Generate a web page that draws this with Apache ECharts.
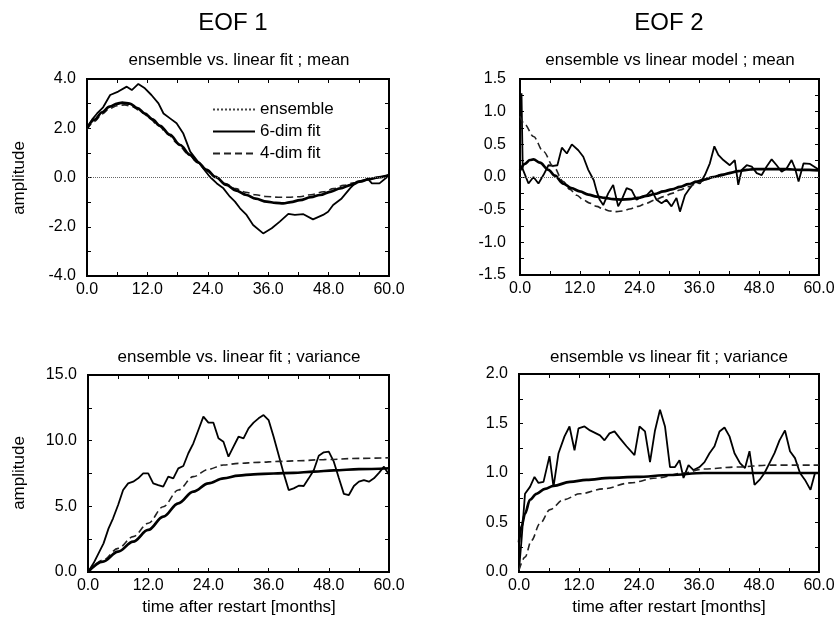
<!DOCTYPE html>
<html>
<head>
<meta charset="utf-8">
<script src="https://cdn.jsdelivr.net/npm/echarts@6/dist/echarts.min.js"></script>
<style>
  html, body { margin: 0; padding: 0; background: #fff; }
  #chart { width: 839px; height: 619px; }
</style>
</head>
<body>
<div id="chart"></div>
<script>
// ---------- EOF 1, mean ----------
const eof1MeanEnsT = [0, 1, 2, 3.2, 4.6, 6.2, 7.9, 8.9, 10.2, 11.5, 12.8, 14.2, 15.2, 16.5, 17.8, 19.1, 20.5, 21.8, 23.1, 24.4, 25.8, 27.1, 28.4, 29.4, 30.4, 31.7, 33.0, 35.0, 36.7, 38.3, 40.0, 41.3, 43.0, 44.9, 46.9, 47.9, 48.9, 50.6, 52.3, 53.6, 55.9, 56.6, 58.1, 60];
const eof1MeanEnsV = [2.0, 2.35, 2.6, 2.85, 3.35, 3.49, 3.69, 3.55, 3.8, 3.62, 3.35, 3.01, 2.6, 2.4, 2.2, 1.8, 1.05, 0.71, 0.37, 0.03, -0.24, -0.44, -0.78, -0.98, -1.25, -1.52, -1.93, -2.27, -2.06, -1.79, -1.48, -1.52, -1.49, -1.70, -1.52, -1.39, -1.12, -0.85, -0.43, -0.17, -0.08, -0.24, -0.24, 0.08];
const eof1Mean6T = [0, 1.5, 3, 4.5, 6, 7, 8.5, 10, 11.5, 13, 14.5, 16.5, 18.5, 20.5, 22, 23.8, 25.5, 27.7, 29.5, 31.7, 33.5, 35.7, 37.5, 39, 40.5, 42.3, 44.5, 46.3, 48.5, 50.3, 52.5, 54.2, 56, 58, 60];
const eof1Mean6V = [2.0, 2.35, 2.65, 2.88, 3.0, 3.04, 3.0, 2.82, 2.6, 2.36, 2.1, 1.73, 1.32, 0.92, 0.62, 0.31, 0.03, -0.30, -0.52, -0.71, -0.86, -0.98, -1.03, -1.05, -1.0, -0.92, -0.8, -0.71, -0.57, -0.44, -0.3, -0.17, -0.07, 0.01, 0.1];
const eof1Mean4T = [0, 1.5, 3, 4.5, 6, 7.5, 9, 10.5, 12, 14, 16, 18, 20, 22, 24, 25.5, 27.5, 29.5, 31.5, 33.5, 35.5, 38, 40, 42.3, 44.5, 47, 49, 51, 53, 55, 57, 60];
const eof1Mean4V = [1.95, 2.28, 2.58, 2.8, 2.92, 2.95, 2.88, 2.72, 2.5, 2.15, 1.78, 1.38, 0.98, 0.6, 0.25, 0.0, -0.25, -0.45, -0.6, -0.7, -0.77, -0.8, -0.8, -0.78, -0.7, -0.58, -0.45, -0.32, -0.22, -0.12, -0.03, 0.1];

// ---------- EOF 2, mean ----------
const eof2MeanEnsT = [0, 0.3, 0.55, 0.9, 1.7, 2.7, 3.7, 4.7, 5.7, 6.7, 7.5, 8.4, 9.4, 10.4, 11.7, 12.7, 13.7, 14.8, 15.4, 16.0, 16.7, 17.7, 18.7, 19.7, 20.4, 21.4, 22.4, 23.4, 24.4, 25.4, 26.4, 27.4, 28.4, 29.4, 30.4, 31.4, 32.1, 33.1, 34.1, 35.1, 36.1, 37.1, 38.1, 39.0, 39.8, 40.8, 42.1, 43.1, 43.8, 44.5, 45.5, 46.5, 47.5, 48.5, 49.5, 50.5, 51.5, 52.5, 53.5, 54.5, 55.2, 55.9, 56.9, 58.2, 60];
const eof2MeanEnsV = [1.2, 1.28, 0.12, 0.11, -0.1, 0.0, -0.1, 0.03, 0.18, 0.17, 0.18, 0.45, 0.36, 0.5, 0.41, 0.31, 0.11, -0.05, -0.22, -0.35, -0.43, -0.25, -0.12, -0.45, -0.35, -0.17, -0.2, -0.35, -0.30, -0.28, -0.2, -0.35, -0.4, -0.35, -0.45, -0.32, -0.53, -0.28, -0.17, -0.07, -0.1, 0.03, 0.21, 0.47, 0.34, 0.26, 0.18, 0.26, -0.12, 0.11, 0.18, 0.16, 0.06, 0.03, 0.16, 0.27, 0.18, 0.08, 0.13, 0.26, 0.13, -0.07, 0.21, 0.20, 0.11];
const eof2Mean6T = [0, 1, 2, 2.7, 4, 5.7, 7, 8.7, 10.3, 12, 13.7, 15.4, 17, 18.7, 20.3, 22, 23.7, 25.4, 27, 28.8, 30.5, 32.1, 33.8, 35.5, 37, 38.8, 40.5, 42.1, 43.8, 45.5, 47, 48.8, 51, 53.5, 56, 58, 60];
const eof2Mean6V = [0.1, 0.2, 0.26, 0.27, 0.22, 0.11, 0.02, -0.1, -0.17, -0.22, -0.27, -0.30, -0.32, -0.34, -0.345, -0.34, -0.32, -0.29, -0.26, -0.22, -0.19, -0.15, -0.11, -0.07, -0.04, 0.0, 0.03, 0.06, 0.09, 0.11, 0.12, 0.12, 0.12, 0.12, 0.11, 0.11, 0.10];
const eof2Mean4T = [0, 1, 2.7, 4.7, 6.7, 8.7, 10, 11.4, 12.7, 14, 15.4, 16.7, 18, 19.4, 20.7, 22, 23.7, 25.4, 27.1, 28.8, 30.5, 32.1, 33.8, 35.5, 37.1, 38.8, 40.5, 42.1, 43.8, 45.5, 47.5, 50.2, 53, 56, 60];
const eof2Mean4V = [0.93, 0.8, 0.62, 0.39, 0.16, -0.07, -0.19, -0.28, -0.35, -0.40, -0.45, -0.49, -0.52, -0.53, -0.52, -0.49, -0.45, -0.40, -0.35, -0.30, -0.25, -0.2, -0.15, -0.1, -0.05, 0.0, 0.04, 0.07, 0.09, 0.11, 0.12, 0.12, 0.12, 0.11, 0.11];

// ---------- EOF 1, variance ----------
const eof1VarEnsT = [0, 1.1, 2.1, 3.1, 4.1, 5, 6, 7, 8, 9, 10, 11, 12, 13, 14, 15, 16, 17, 18, 19, 20, 21, 22, 23, 24, 25, 26, 27, 28, 29, 30, 31, 32, 33, 34, 35, 36, 37, 38, 39, 40, 41, 42, 43, 44, 45, 46, 47, 48, 49, 50, 51, 52, 53, 54, 55, 56, 57, 58, 59, 60];
const eof1VarEnsV = [0, 0.66, 1.42, 2.18, 3.32, 4.09, 5.1, 6.24, 6.75, 6.88, 7.13, 7.51, 7.51, 6.75, 6.62, 6.5, 7.26, 7.13, 7.89, 8.07, 9.04, 9.8, 10.81, 11.83, 11.37, 11.37, 10.18, 9.92, 8.78, 9.54, 10.3, 10.18, 10.94, 11.37, 11.7, 11.95, 11.57, 10.3, 8.91, 7.51, 6.24, 6.37, 6.57, 6.55, 7.13, 7.75, 8.85, 9.11, 9.16, 8.4, 7.15, 5.95, 5.86, 6.55, 6.88, 7.0, 6.88, 7.13, 7.55, 8.02, 7.4];
const eof1Var6T = [0, 3, 6, 9, 12, 15, 18, 21, 24, 27, 30, 33, 37, 41, 45, 49, 54, 60];
const eof1Var6V = [0, 0.79, 1.55, 2.31, 3.2, 4.21, 5.23, 6.12, 6.75, 7.13, 7.34, 7.44, 7.5, 7.55, 7.64, 7.74, 7.83, 7.9];
const eof1Var4T = [0, 3, 6, 9, 12, 15, 18, 21, 24, 27, 30, 34, 38, 42, 47, 54, 60];
const eof1Var4V = [0, 0.91, 1.8, 2.69, 3.71, 4.97, 6.24, 7.26, 7.82, 8.15, 8.27, 8.35, 8.42, 8.47, 8.56, 8.65, 8.7];

// ---------- EOF 2, variance ----------
const eof2VarEnsT = [0, 0.5, 1.2, 2.2, 3.1, 3.9, 4.9, 6.1, 6.9, 7.9, 9.1, 10.1, 11.1, 11.9, 13.1, 14.2, 15.4, 16.2, 17.1, 18.1, 19.1, 20.2, 21.5, 23.1, 24.1, 25.2, 26.2, 27.2, 28.2, 29.2, 30.2, 31.2, 32.1, 32.9, 33.9, 34.9, 36.1, 37.1, 38.1, 39.1, 40.1, 41.1, 42.1, 43.1, 44.2, 45.2, 46.1, 47.1, 48.1, 49.1, 50.1, 51.1, 52.1, 53.2, 54.2, 55.2, 56.2, 57.2, 58.3, 59.2, 60];
const eof2VarEnsV = [0.02, 0.32, 0.79, 0.86, 0.96, 0.9, 0.91, 1.17, 0.86, 1.2, 1.37, 1.47, 1.23, 1.45, 1.47, 1.43, 1.40, 1.38, 1.33, 1.40, 1.42, 1.35, 1.27, 1.18, 1.47, 1.42, 1.11, 1.43, 1.64, 1.47, 1.06, 1.06, 1.13, 0.95, 1.08, 1.03, 1.06, 1.11, 1.2, 1.27, 1.42, 1.46, 1.37, 1.2, 1.10, 1.05, 1.22, 0.88, 0.93, 1.0, 1.1, 1.2, 1.33, 1.43, 1.22, 1.15, 1.0, 0.93, 0.83, 1.0, 1.0];
const eof2Var6T = [0, 0.5, 1.2, 2.2, 3.5, 5.2, 6.9, 10.2, 13.5, 18.2, 23.5, 30.2, 36.9, 43.5, 60];
const eof2Var6V = [0.3, 0.46, 0.59, 0.73, 0.79, 0.84, 0.87, 0.91, 0.93, 0.95, 0.96, 0.98, 1.0, 1.0, 1.0];
const eof2Var4T = [0, 1.2, 2.5, 4.2, 6.2, 8.9, 12.2, 16.9, 22.2, 27.5, 32.9, 36.9, 43.5, 50.2, 60];
const eof2Var4V = [0.02, 0.15, 0.32, 0.49, 0.63, 0.73, 0.79, 0.84, 0.9, 0.95, 1.0, 1.04, 1.06, 1.08, 1.08];

// ---------- text ----------
const columnTitles = ['EOF 1', 'EOF 2'];
const panelTitles = [
  'ensemble vs. linear fit ; mean',
  'ensemble vs linear model ; mean',
  'ensemble vs. linear fit ; variance',
  'ensemble vs linear fit ; variance'
];
const seriesNames = ['ensemble', '6-dim fit', '4-dim fit'];
const yName = 'amplitude';
const xName = 'time after restart [months]';

// ---------- layout ----------
const FONT = '"Liberation Sans", Arial, Helvetica, sans-serif';
const panels = [
  { grid: { left: 87, top: 79, width: 302, height: 197 }, y: { min: -4, max: 4, interval: 2 }, yMargin: 11,
    data: [[eof1MeanEnsT, eof1MeanEnsV], [eof1Mean6T, eof1Mean6V], [eof1Mean4T, eof1Mean4V]], zero: true },
  { grid: { left: 520, top: 79, width: 299, height: 196 }, y: { min: -1.5, max: 1.5, interval: 0.5 }, yMargin: 14,
    data: [[eof2MeanEnsT, eof2MeanEnsV], [eof2Mean6T, eof2Mean6V], [eof2Mean4T, eof2Mean4V]], zero: true },
  { grid: { left: 88, top: 375, width: 301, height: 197 }, y: { min: 0, max: 15, interval: 5 }, yMargin: 11,
    data: [[eof1VarEnsT, eof1VarEnsV], [eof1Var6T, eof1Var6V], [eof1Var4T, eof1Var4V]], zero: false },
  { grid: { left: 519, top: 374, width: 300, height: 198 }, y: { min: 0, max: 2, interval: 0.5 }, yMargin: 11,
    data: [[eof2VarEnsT, eof2VarEnsV], [eof2Var6T, eof2Var6V], [eof2Var4T, eof2Var4V]], zero: false }
];

const lineStyles = [
  { color: '#000', width: 1.8, type: 'solid' },
  { color: '#000', width: 2.7, type: 'solid' },
  { color: '#222', width: 1.6, type: [7, 4] }
];

const tickStyle = { color: '#000', width: 1 };
const grids = [], xAxes = [], yAxes = [], series = [];

panels.forEach((p, g) => {
  grids.push(Object.assign({ show: true, borderColor: '#000', borderWidth: 2, backgroundColor: 'transparent' }, p.grid));
  ['bottom', 'top'].forEach((pos) => {
    xAxes.push({
      type: 'value', gridIndex: g, position: pos, min: 0, max: 60, interval: 12,
      axisLine: { show: false, onZero: false },
      axisTick: { show: true, inside: true, length: 4, lineStyle: tickStyle },
      minorTick: { show: true, splitNumber: 2, length: 4, lineStyle: tickStyle },
      splitLine: { show: false },
      axisLabel: pos === 'bottom'
        ? { show: true, margin: 6, color: '#000', fontSize: 16, fontFamily: FONT, formatter: (v) => v.toFixed(1) }
        : { show: false }
    });
  });
  ['left', 'right'].forEach((pos) => {
    yAxes.push({
      type: 'value', gridIndex: g, position: pos, min: p.y.min, max: p.y.max, interval: p.y.interval,
      axisLine: { show: false, onZero: false },
      axisTick: { show: true, inside: true, length: 4, lineStyle: tickStyle },
      minorTick: { show: true, splitNumber: 2, length: 4, lineStyle: tickStyle },
      splitLine: { show: false },
      axisLabel: pos === 'left'
        ? { show: true, margin: p.yMargin, color: '#000', fontSize: 16, fontFamily: FONT, formatter: (v) => v.toFixed(1) }
        : { show: false }
    });
  });
  p.data.forEach(([t, v], k) => {
    const s = {
      type: 'line', name: seriesNames[k],
      xAxisIndex: 2 * g, yAxisIndex: 2 * g,
      data: t.map((x, i) => [x, v[i]]),
      symbol: 'none', showSymbol: false,
      smooth: k === 0 ? false : 0.35,
      smoothMonotone: 'x',
      lineStyle: lineStyles[k],
      itemStyle: { color: lineStyles[k].color },
      z: k === 1 ? 4 : 3,
      animation: false
    };
    if (k === 0 && p.zero) {
      s.markLine = {
        silent: true, symbol: ['none', 'none'], animation: false,
        label: { show: false },
        lineStyle: { type: 'dotted', color: '#666', width: 1 },
        data: [{ yAxis: 0 }]
      };
    }
    series.push(s);
  });
});

// titles and axis names
const txt = (text, x, y, size, extra) => Object.assign({
  type: 'text', x, y, silent: true,
  style: { text, fill: '#000', font: size + 'px ' + FONT, align: 'center', verticalAlign: 'middle' }
}, extra || {});

const graphics = [
  txt(columnTitles[0], 233, 23, 24),
  txt(columnTitles[1], 669, 23, 24),
  txt(panelTitles[0], 239, 60, 17),
  txt(panelTitles[1], 670, 60, 17),
  txt(panelTitles[2], 239, 357, 17),
  txt(panelTitles[3], 669, 357, 17),
  txt(yName, 19, 178, 17, { rotation: Math.PI / 2 }),
  txt(yName, 19, 473, 17, { rotation: Math.PI / 2 }),
  txt(xName, 239, 607, 17),
  txt(xName, 669, 607, 17)
];

const chart = echarts.init(document.getElementById('chart'), null, { renderer: 'canvas' });
chart.setOption({
  backgroundColor: '#fff',
  animation: false,
  grid: grids,
  xAxis: xAxes,
  yAxis: yAxes,
  series: series,
  legend: {
    left: 212, top: 101, orient: 'vertical', padding: 0,
    itemWidth: 42, itemHeight: 14, itemGap: 5,
    itemStyle: { color: 'rgba(0,0,0,0)', borderWidth: 0, opacity: 0 },
    textStyle: { color: '#000', fontSize: 17, fontFamily: FONT },
    data: [
      { name: seriesNames[0], lineStyle: { type: 'dotted', color: '#444', width: 2 } },
      { name: seriesNames[1] },
      { name: seriesNames[2] }
    ]
  },
  graphic: graphics
});
</script>
</body>
</html>
